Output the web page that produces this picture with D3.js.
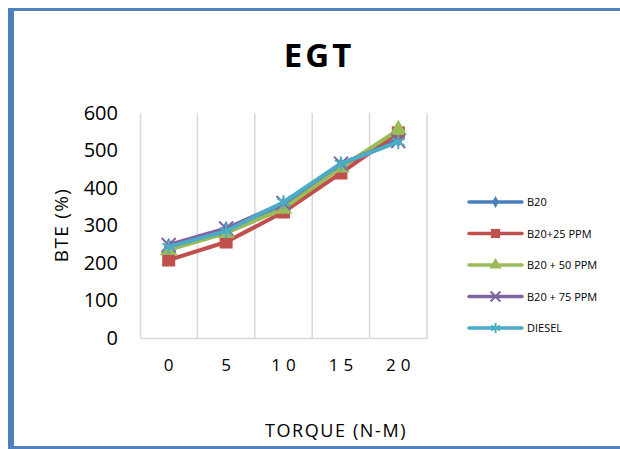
<!DOCTYPE html>
<html>
<head>
<meta charset="utf-8">
<script src="https://cdn.jsdelivr.net/npm/d3@7/dist/d3.min.js"></script>
<style>
  html, body { margin: 0; padding: 0; background: #fff; }
  svg { display: block; font-family: "Open Sans", "Noto Sans", sans-serif; }
</style>
</head>
<body>
<svg id="chart" width="620" height="449"></svg>
<script>
const categories = ["0", "5", "10", "15", "20"];
const seriesNames = ["B20", "B20+25 PPM", "B20 + 50 PPM", "B20 + 75 PPM", "DIESEL"];
const b20 = [245, 290, 355, 460, 530];
const b20_25 = [208, 256, 336, 440, 547];
const b20_50 = [235, 280, 345, 455, 555];
const b20_75 = [248, 292, 360, 465, 525];
const diesel = [243, 285, 362, 465, 523];
const yTicks = [0, 100, 200, 300, 400, 500, 600];
const colors = ["#4a7ebb", "#c0504d", "#9bbb59", "#8064a2", "#4bacc6"];
const markers = ["diamond", "square", "triangle", "cross", "star"];

const allSeries = [b20, b20_25, b20_50, b20_75, diesel].map((v, i) => ({
  name: seriesNames[i], values: v, color: colors[i], marker: markers[i]
}));

const FONT = "'Open Sans', 'Noto Sans', sans-serif";
const svg = d3.select("#chart");

// outer frame
svg.append("line").attr("x1", 11).attr("x2", 620).attr("y1", 9.5).attr("y2", 9.5)
  .attr("stroke", "#4f81bd").attr("stroke-width", 3);
svg.append("line").attr("x1", 11).attr("x2", 11).attr("y1", 8).attr("y2", 449)
  .attr("stroke", "#4f81bd").attr("stroke-width", 6);
svg.append("line").attr("x1", 8).attr("x2", 620).attr("y1", 447.5).attr("y2", 447.5)
  .attr("stroke", "#4f81bd").attr("stroke-width", 3);

const plot = { left: 140, right: 427, top: 113, bottom: 338 };

const x = d3.scaleBand().domain(categories).range([plot.left, plot.right]);
const y = d3.scaleLinear().domain([0, 600]).range([plot.bottom, plot.top]);

// vertical gridlines at category boundaries
const bounds = categories.map(c => x(c)).concat([plot.right]);
svg.append("g").selectAll("line").data(bounds.slice(1)).join("line")
  .attr("x1", d => d).attr("x2", d => d)
  .attr("y1", plot.top).attr("y2", plot.bottom)
  .attr("stroke", "#d9d9d9").attr("stroke-width", 1.5);

// axes
const yAxis = svg.append("g").attr("transform", `translate(${plot.left},0)`)
  .call(d3.axisLeft(y).tickValues(yTicks).tickSize(0).tickPadding(22));
yAxis.select(".domain").attr("stroke", "#d9d9d9").attr("stroke-width", 1.5);
yAxis.selectAll("text").attr("font-size", 20).attr("fill", "#000").attr("font-family", FONT);

const xAxis = svg.append("g").attr("transform", `translate(0,${plot.bottom})`)
  .call(d3.axisBottom(x).tickSize(0).tickPadding(21));
xAxis.select(".domain").attr("stroke", "#d9d9d9").attr("stroke-width", 1.5);
xAxis.selectAll("text").attr("font-size", 17).attr("fill", "#000")
  .attr("letter-spacing", "5px").attr("dx", "2.5px").attr("font-family", FONT);

// titles
svg.append("text").attr("x", 319).attr("y", 67).attr("text-anchor", "middle")
  .attr("font-size", 33).attr("font-weight", "bold").attr("letter-spacing", "3px")
  .text("EGT");
svg.append("text").attr("transform", "translate(68,225) rotate(-90)")
  .attr("text-anchor", "middle").attr("font-size", 19).attr("letter-spacing", "1.3px")
  .text("BTE (%)");
svg.append("text").attr("x", 336).attr("y", 437).attr("text-anchor", "middle")
  .attr("font-size", 18).attr("letter-spacing", "1.6px").text("TORQUE (N-M)");

function markerPath(type, size) {
  const sym = {
    diamond: d3.symbolDiamond, square: d3.symbolSquare, triangle: d3.symbolTriangle,
    cross: d3.symbolX, star: d3.symbolAsterisk
  }[type];
  return d3.symbol().type(sym).size(size)();
}
function drawMarker(g, s, cx, cy, big) {
  const sizes = { diamond: 80, square: 170, triangle: 130, cross: 130, star: 140 };
  const m = g.append("path").attr("d", markerPath(s.marker, sizes[s.marker] * (big ? 1 : 0.5)))
    .attr("transform", `translate(${cx},${cy})`);
  if (s.marker === "cross" || s.marker === "star") {
    m.attr("fill", "none").attr("stroke", s.color).attr("stroke-width", 2);
  } else {
    m.attr("fill", s.color);
  }
}

const line = d3.line().x((d, i) => x(categories[i]) + x.bandwidth() / 2).y(d => y(d));

allSeries.forEach(s => {
  const g = svg.append("g");
  g.append("path").datum(s.values).attr("d", line)
    .attr("fill", "none").attr("stroke", s.color).attr("stroke-width", 4)
    .attr("stroke-linejoin", "round");
  s.values.forEach((v, i) => drawMarker(g, s, x(categories[i]) + x.bandwidth() / 2, y(v), true));
});

// legend
const legend = svg.append("g");
allSeries.forEach((s, i) => {
  const ly = 202 + i * 31.5;
  const g = legend.append("g");
  g.append("line").attr("x1", 469).attr("x2", 522).attr("y1", ly).attr("y2", ly)
    .attr("stroke", s.color).attr("stroke-width", 3.5).attr("stroke-linecap", "round");
  drawMarker(g, s, 495.5, ly, false);
  g.append("text").attr("x", 527).attr("y", ly + 4).attr("font-size", 11)
    .attr("font-family", FONT).text(s.name);
});
</script>
</body>
</html>
